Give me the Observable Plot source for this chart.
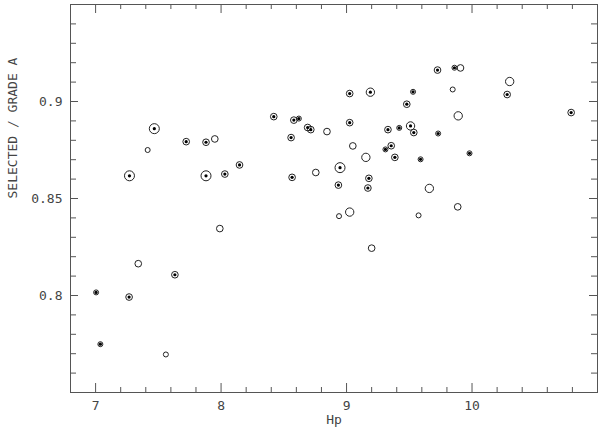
<!DOCTYPE html>
<html><head><meta charset="utf-8">
<script src="https://cdn.jsdelivr.net/npm/d3@7"></script>
<script src="https://cdn.jsdelivr.net/npm/@observablehq/plot@0.6"></script>
<style>body{margin:0;background:#fff}</style>
</head><body><div id="chart"></div>
<script>
// Data: Hp magnitude, ratio selected / grade A, marker kind (d = circle with dot, o = open circle), weight class
const hp = [7.468,7.722,7.88,7.27,7.88,8.03,8.147,9.725,9.025,9.19,9.53,9.48,8.42,8.58,8.62,8.69,8.715,9.025,8.558,9.33,9.42,9.51,9.536,9.73,9.356,9.31,9.385,9.59,8.948,8.566,9.178,8.935,9.17,9.86,10.28,10.79,9.98,7.632,7.004,7.267,7.038,
  7.415,7.95,8.844,9.05,9.154,8.755,9.66,9.908,10.3,9.846,9.89,7.99,7.34,7.56,8.94,9.025,9.574,9.2,9.886];
const ratio = [0.886,0.8793,0.879,0.8617,0.8617,0.8626,0.8673,0.9162,0.9041,0.9048,0.905,0.8986,0.8922,0.8904,0.8912,0.8866,0.8855,0.8891,0.8814,0.8855,0.8864,0.8874,0.884,0.8835,0.8772,0.8753,0.8712,0.8702,0.8659,0.8609,0.8604,0.8569,0.8554,0.9174,0.9036,0.8943,0.8733,0.8107,0.8016,0.7992,0.7749,
  0.875,0.8807,0.8845,0.8771,0.8712,0.8634,0.8552,0.9173,0.9103,0.9062,0.8926,0.8345,0.8164,0.7696,0.8409,0.843,0.8413,0.8244,0.8457];
const kind = ["d","d","d","d","d","d","d","d","d","d","d","d","d","d","d","d","d","d","d","d","d","d","d","d","d","d","d","d","d","d","d","d","d","d","d","d","d","d","d","d","d",
  "o","o","o","o","o","o","o","o","o","o","o","o","o","o","o","o","o","o","o"];
const weight = [4,2,2,4,4,2,2,2,2,3,1,2,2,2,1,2,2,2,2,2,1,3,2,1,2,1,2,1,4,2,2,2,2,1,2,2,1,2,1,2,1,
  1,2,2,2,3,2,3,2,3,1,3,2,2,1,1,3,1,2,2];

const xMajor = [7, 8, 9, 10];
const xMinor = [7.2,7.4,7.6,7.8,8.2,8.4,8.6,8.8,9.2,9.4,9.6,9.8,10.2,10.4,10.6,10.8];
const yMajor = [0.8, 0.85, 0.9];
const yMinor = [0.76,0.77,0.78,0.79,0.81,0.82,0.83,0.84,0.86,0.87,0.88,0.89,0.91,0.92,0.93,0.94];
const xTitle = "Hp";
const yTitle = "SELECTED / GRADE A";

const data = hp.map((x, i) => ({hp: x, ratio: ratio[i], kind: kind[i], w: weight[i]}));

const W = 600, H = 431, mL = 70, mR = 3, mT = 4, mB = 39;
const pw = W - mL - mR, ph = H - mT - mB;
const ink = "#555";
const id = d => d;
const fmt = d => String(d);

const chart = Plot.plot({
  width: W, height: H,
  marginLeft: mL, marginRight: mR, marginTop: mT, marginBottom: mB,
  x: {domain: [6.8, 11.0], label: null, axis: null},
  y: {domain: [0.75, 0.95], label: null, axis: null},
  r: {type: "linear", domain: [1, 4], range: [2.5, 5]},
  style: {fontFamily: "'DejaVu Sans Mono', monospace", fontSize: "13px", color: "#444", background: "#fff"},
  marks: [
    Plot.frame({stroke: ink}),
    Plot.tickX(xMinor, {x: id, insetTop: ph - 5, stroke: ink}),
    Plot.tickX(xMajor, {x: id, insetTop: ph - 9, stroke: ink}),
    Plot.tickX(xMinor, {x: id, insetBottom: ph - 5, stroke: ink}),
    Plot.tickX(xMajor, {x: id, insetBottom: ph - 9, stroke: ink}),
    Plot.tickY(yMinor, {y: id, insetRight: pw - 6, stroke: ink}),
    Plot.tickY(yMajor, {y: id, insetRight: pw - 8, stroke: ink}),
    Plot.tickY(yMinor, {y: id, insetLeft: pw - 6, stroke: ink}),
    Plot.tickY(yMajor, {y: id, insetLeft: pw - 8, stroke: ink}),
    Plot.axisX(xMajor, {tickSize: 0, tickPadding: 8, label: null, fill: "#444", tickFormat: fmt}),
    Plot.axisY(yMajor, {tickSize: 0, tickPadding: 8, label: null, fill: "#444", tickFormat: fmt}),
    Plot.text([xTitle], {frameAnchor: "bottom", dy: 31, fill: "#444"}),
    Plot.text([yTitle], {frameAnchor: "left", dx: -58, rotate: -90, fill: "#444"}),
    Plot.dot(data, {x: "hp", y: "ratio", r: "w", stroke: "#222", strokeWidth: 1, fill: "none"}),
    Plot.dot(data.filter(d => d.kind === "d"), {x: "hp", y: "ratio", r: 1.6, fill: "#000", stroke: "none"})
  ]
});
document.getElementById("chart").appendChild(chart);
</script>
</body></html>
